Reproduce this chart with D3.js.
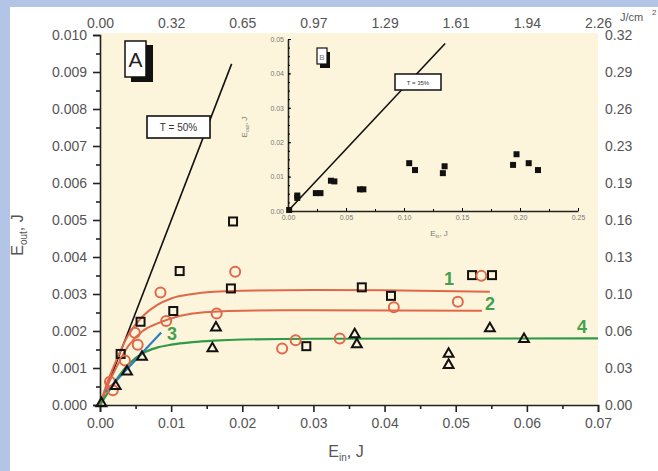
<!DOCTYPE html>
<html><head><meta charset="utf-8">
<script src="https://cdn.jsdelivr.net/npm/d3@7"></script>
<style>
html,body{margin:0;padding:0;background:#b2c5e7;}
svg{display:block;font-family:"Liberation Sans",Arial,sans-serif;}
</style></head><body>
<svg id="c" width="658" height="471"></svg>
<script>
// ---------- data ----------
const xTicks = [0,0.01,0.02,0.03,0.04,0.05,0.06,0.07];
const yTicks = [0,0.001,0.002,0.003,0.004,0.005,0.006,0.007,0.008,0.009,0.010];
const topLabels = ["0.00","0.32","0.65","0.97","1.29","1.61","1.94","2.26"];
const rightLabels = ["0.00","0.03","0.06","0.10","0.13","0.16","0.19","0.23","0.26","0.29","0.32"];

const squares = [[0.0112,0.00362],[0.0187,0.00496],[0.0184,0.00315],[0.0103,0.00254],[0.0057,0.00225],
  [0.0029,0.00138],[0.0368,0.00318],[0.0290,0.00159],[0.0409,0.00295],[0.0523,0.00351],[0.0551,0.00351]];
const circles = [[0.0190,0.00360],[0.0085,0.00304],[0.0164,0.00247],[0.0093,0.00227],[0.0049,0.00195],
  [0.0053,0.00163],[0.0035,0.00120],[0.0014,0.00063],[0.0018,0.00040],[0.0256,0.00153],[0.0275,0.00175],
  [0.0337,0.00180],[0.0413,0.00264],[0.0503,0.00279],[0.0536,0.00349]];
const triangles = [[0.0163,0.00209],[0.0158,0.00153],[0.0059,0.00130],[0.0038,0.00090],[0.0022,0.00051],
  [0.0002,0.00004],[0.0358,0.00191],[0.0361,0.00164],[0.0490,0.00138],[0.0490,0.00108],[0.0548,0.00207],[0.0596,0.00178]];

const curve1 = [[0,0],[0.001,0.0006],[0.002,0.00108],[0.004,0.0019],[0.006,0.0024],[0.008,0.0027],[0.010,0.00288],
  [0.013,0.00300],[0.016,0.00306],[0.020,0.00309],[0.030,0.00311],[0.040,0.00310],[0.0548,0.00306]];
const curve2 = [[0,0],[0.001,0.0005],[0.002,0.0009],[0.004,0.0016],[0.006,0.0020],[0.008,0.0022],[0.010,0.00234],
  [0.013,0.00247],[0.016,0.00252],[0.020,0.00255],[0.030,0.00256],[0.0537,0.00255]];
const curve3 = [[0.0008,0.00035],[0.0086,0.00196]];
const curve4 = [[0,0],[0.001,0.0003],[0.002,0.0006],[0.004,0.0011],[0.006,0.0014],[0.008,0.00155],[0.010,0.00163],
  [0.013,0.00170],[0.016,0.00174],[0.020,0.00177],[0.030,0.00179],[0.070,0.00180]];
const lineT50 = [[0,0],[0.0185,0.00922]];

const insetXTicks = [0,0.05,0.10,0.15,0.20,0.25];
const insetYTicks = [0,0.01,0.02,0.03,0.04,0.05];
const insetSquares = [[0.001,0.0003],[0.008,0.0045],[0.008,0.0038],[0.024,0.0052],[0.028,0.0052],[0.037,0.0088],
  [0.040,0.0086],[0.062,0.0063],[0.065,0.0063],[0.1045,0.0139],[0.1095,0.0119],[0.1335,0.0110],[0.135,0.0130],
  [0.194,0.0134],[0.197,0.0165],[0.2075,0.0139],[0.2155,0.0119]];
const lineT35 = [[0,0],[0.1355,0.0487]];

// ---------- drawing ----------
const svg = d3.select("#c");
svg.append("rect").attr("x",0).attr("y",0).attr("width",658).attr("height",471).attr("fill","#b2c5e7");
svg.append("rect").attr("x",10).attr("y",7).attr("width",648).attr("height",464).attr("fill","#ffffff");

const x = d3.scaleLinear().domain([0,0.07]).range([100,598]);
const y = d3.scaleLinear().domain([0,0.010]).range([405,35]);

svg.append("rect").attr("x",100).attr("y",33).attr("width",498).attr("height",372).attr("fill","#fdf5db");

const gray = "#555";
// bottom axis
const bx = svg.append("g").attr("transform","translate(0,405)")
  .call(d3.axisBottom(x).tickValues(xTicks).tickFormat(d3.format(".2f")).tickSizeOuter(0).tickSize(7).tickPadding(6));
svg.append("g").attr("transform","translate(0,405)")
  .call(d3.axisBottom(x).tickValues(d3.range(0.005,0.07,0.01)).tickFormat("").tickSize(4).tickSizeOuter(0))
  .select(".domain").remove();
// left axis
const ly = svg.append("g").attr("transform","translate(100,0)")
  .call(d3.axisLeft(y).tickValues(yTicks).tickFormat(d3.format(".3f")).tickSizeOuter(0).tickSize(7).tickPadding(6));
svg.append("g").attr("transform","translate(100,0)")
  .call(d3.axisLeft(y).tickValues(d3.range(0.0005,0.010,0.001)).tickFormat("").tickSize(4).tickSizeOuter(0))
  .select(".domain").remove();
// top axis (labels only)
const tx = svg.append("g").attr("transform","translate(0,30)")
  .call(d3.axisTop(x).tickValues(xTicks).tickFormat((d,i)=>topLabels[i]).tickSize(0).tickPadding(2));
tx.select(".domain").remove();
// right axis (labels only)
const ry = svg.append("g").attr("transform","translate(598,0)")
  .call(d3.axisRight(y).tickValues(yTicks).tickFormat((d,i)=>rightLabels[i]).tickSize(0).tickPadding(7));
ry.select(".domain").remove();

svg.selectAll(".tick text").attr("fill",gray).style("font-size","14px").style("font-family","'Liberation Sans',Arial,sans-serif");
svg.selectAll(".domain,.tick line").attr("stroke","#222").attr("stroke-width",1.6);

svg.append("text").attr("x",620).attr("y",21).attr("fill",gray).style("font-size","11px").text("J/cm");
svg.append("text").attr("x",652).attr("y",15).attr("fill",gray).style("font-size","8px").text("2");

// axis titles
const bt = svg.append("text").attr("x",346).attr("y",457).attr("text-anchor","middle").attr("fill",gray).style("font-size","16px");
bt.append("tspan").text("E");
bt.append("tspan").attr("dy",4).style("font-size","10px").text("in");
bt.append("tspan").attr("dy",-4).text(", J");
const lt = svg.append("text").attr("transform","translate(23,235) rotate(-90)").attr("text-anchor","middle").attr("fill",gray).style("font-size","16px");
lt.append("tspan").text("E");
lt.append("tspan").attr("dy",4).style("font-size","10px").text("out");
lt.append("tspan").attr("dy",-4).text(", J");

// inset
const xi = d3.scaleLinear().domain([0,0.25]).range([288,578]);
const yi = d3.scaleLinear().domain([0,0.05]).range([211,39]);
const ixa = svg.append("g").attr("transform","translate(0,211)")
  .call(d3.axisBottom(xi).tickValues(insetXTicks).tickFormat(d3.format(".2f")).tickSizeInner(-3).tickSizeOuter(0).tickPadding(4));
svg.append("g").attr("transform","translate(0,211)")
  .call(d3.axisBottom(xi).tickValues(d3.range(0.025,0.25,0.05)).tickFormat("").tickSize(-2).tickSizeOuter(0))
  .select(".domain").remove();
const iya = svg.append("g").attr("transform","translate(288,0)")
  .call(d3.axisLeft(yi).tickValues(insetYTicks).tickFormat(d3.format(".2f")).tickSizeInner(-3).tickSizeOuter(0).tickPadding(4));
svg.append("g").attr("transform","translate(288,0)")
  .call(d3.axisLeft(yi).tickValues(d3.range(0.0025,0.05,0.0025)).tickFormat("").tickSize(-2).tickSizeOuter(0))
  .select(".domain").remove();
[ixa,iya].forEach(g=>{
  g.selectAll(".tick text").attr("fill","#777").style("font-size","7px");
});
svg.selectAll(".domain").attr("stroke","#222");
ixa.select(".domain").attr("stroke-width",1.6);
iya.select(".domain").attr("stroke-width",1.6);

const it = svg.append("text").attr("x",439).attr("y",236).attr("text-anchor","middle").attr("fill","#777").style("font-size","8px");
it.append("tspan").text("E");
it.append("tspan").attr("dy",2).style("font-size","5px").text("in");
it.append("tspan").attr("dy",-2).text(", J");
const il = svg.append("text").attr("transform","translate(247,127) rotate(-90)").attr("text-anchor","middle").attr("fill","#777").style("font-size","8px");
il.append("tspan").text("E");
il.append("tspan").attr("dy",2).style("font-size","5px").text("out");
il.append("tspan").attr("dy",-2).text(", J");

const lineI = d3.line().x(d=>xi(d[0])).y(d=>yi(d[1]));
svg.append("path").attr("d",lineI(lineT35)).attr("fill","none").attr("stroke","#111").attr("stroke-width",1.6);
svg.append("g").selectAll("rect").data(insetSquares).join("rect")
  .attr("x",d=>xi(d[0])-3).attr("y",d=>yi(d[1])-3).attr("width",6).attr("height",6).attr("fill","#111");
// T=35% box
svg.append("rect").attr("x",395).attr("y",74).attr("width",46).attr("height",16).attr("fill","#fff").attr("stroke","#111").attr("stroke-width",1.5);
svg.append("text").attr("x",418).attr("y",85).attr("text-anchor","middle").attr("fill","#333").style("font-size","6px").text("T = 35%");
// B box
svg.append("rect").attr("x",320).attr("y",52).attr("width",10).attr("height",16).attr("fill","#111");
svg.append("rect").attr("x",317).attr("y",48).attr("width",10).attr("height",16).attr("fill","#fff").attr("stroke","#111").attr("stroke-width",1.2);
svg.append("text").attr("x",322).attr("y",60).attr("text-anchor","middle").attr("fill","#777").style("font-size","8px").text("B");

// main lines
const line = d3.line().x(d=>x(d[0])).y(d=>y(d[1]));
const sline = d3.line().x(d=>x(d[0])).y(d=>y(d[1])).curve(d3.curveMonotoneX);
svg.append("path").attr("d",line(lineT50)).attr("fill","none").attr("stroke","#111").attr("stroke-width",1.6);
svg.append("path").attr("d",sline(curve1)).attr("fill","none").attr("stroke","#e0684a").attr("stroke-width",2);
svg.append("path").attr("d",sline(curve2)).attr("fill","none").attr("stroke","#e0684a").attr("stroke-width",2);
svg.append("path").attr("d",sline(curve4)).attr("fill","none").attr("stroke","#2e9a48").attr("stroke-width",2.2);
svg.append("path").attr("d",line(curve3)).attr("fill","none").attr("stroke","#2f7dc2").attr("stroke-width",2.2);

// markers
svg.append("g").selectAll("rect").data(squares).join("rect")
  .attr("x",d=>x(d[0])-4).attr("y",d=>y(d[1])-4).attr("width",8).attr("height",8)
  .attr("fill","none").attr("stroke","#111").attr("stroke-width",2);
svg.append("g").selectAll("circle").data(circles).join("circle")
  .attr("cx",d=>x(d[0])).attr("cy",d=>y(d[1])).attr("r",5)
  .attr("fill","none").attr("stroke","#e0684a").attr("stroke-width",2);
const tri = d3.symbol().type(d3.symbolTriangle).size(42);
svg.append("g").selectAll("path").data(triangles).join("path")
  .attr("transform",d=>`translate(${x(d[0])},${y(d[1])})`).attr("d",tri())
  .attr("fill","none").attr("stroke","#111").attr("stroke-width",2);

// T=50% box
svg.append("rect").attr("x",147).attr("y",116).attr("width",63).attr("height",22).attr("fill","#fff").attr("stroke","#111").attr("stroke-width",1.6);
svg.append("text").attr("x",178.5).attr("y",131).attr("text-anchor","middle").attr("fill","#333").style("font-size","10px").text("T = 50%");
// A box
svg.append("rect").attr("x",131).attr("y",45).attr("width",22).attr("height",37).attr("fill","#111");
svg.append("rect").attr("x",125).attr("y",41).attr("width",21).attr("height",36).attr("fill","#fff").attr("stroke","#111").attr("stroke-width",1.5);
svg.append("text").attr("x",135.5).attr("y",67).attr("text-anchor","middle").attr("fill","#222").style("font-size","21px").text("A");

// curve labels
const green = "#44a04c";
[["1",449,285],["2",490,310],["3",172,340],["4",582,333]].forEach(([t,px,py])=>{
  svg.append("text").attr("x",px).attr("y",py).attr("text-anchor","middle").attr("fill",green)
    .style("font-size","18px").style("font-weight","bold").text(t);
});
</script>
</body></html>
